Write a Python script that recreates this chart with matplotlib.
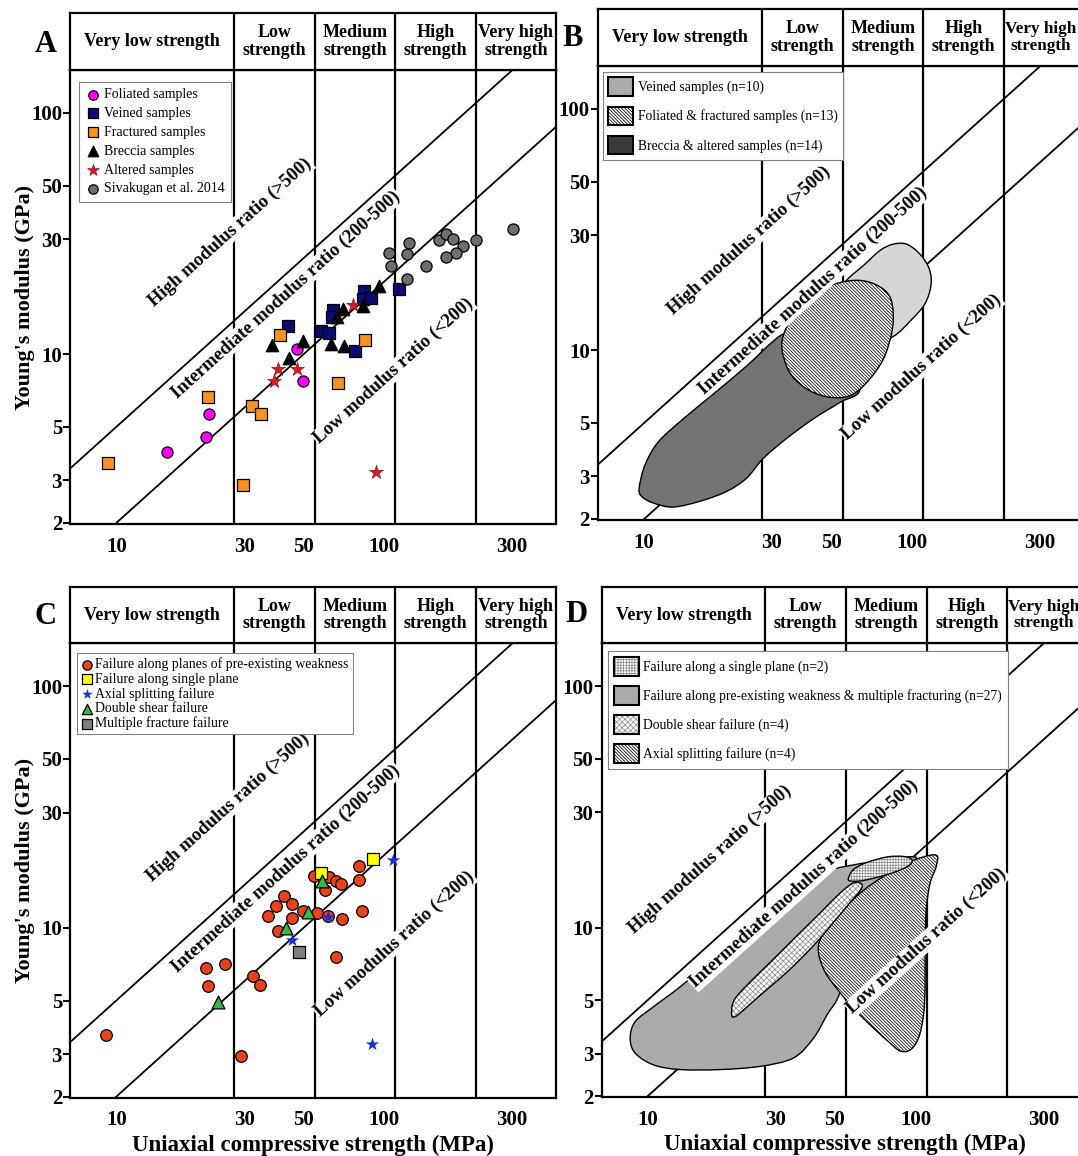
import matplotlib.pyplot as plt
import numpy as np
from matplotlib.patches import Patch, PathPatch
from matplotlib.path import Path
from matplotlib.ticker import NullLocator
from matplotlib.legend_handler import HandlerPatch

plt.rcParams['font.family'] = ['Liberation Serif', 'DejaVu Serif']
plt.rcParams['hatch.linewidth'] = 0.55

# Deere-Miller strength classes (MPa) and modulus ratio lines
CLASS_BOUNDS = [27.5, 55, 110, 220]
CLASS_NAMES = ['Very low strength', 'Low\nstrength', 'Medium\nstrength',
               'High\nstrength', 'Very high\nstrength']
RATIOS = [500, 200]
RATIO_TEXT = ['High modulus ratio (>500)',
              'Intermediate modulus ratio (200-500)',
              'Low modulus ratio (<200)']
X_TICKS = [10, 30, 50, 100, 300]
Y_TICKS = [2, 3, 5, 10, 30, 50, 100]
UCS_LIM = (6.74, 437.7)
E_LIM = (1.98, 150.5)

# ---- panel A : sample types (UCS MPa, E GPa)
foliated_ucs = [15.4, 21.6, 22.2, 47.4, 49.6]
foliated_e = [3.95, 4.54, 5.68, 10.5, 7.77]
veined_ucs = [43.6, 58.1, 62.0, 64.5, 63.8, 77.8, 84.0, 83.1, 89.2, 113.8]
veined_e = [13.1, 12.5, 12.3, 15.2, 14.3, 10.3, 18.3, 16.9, 17.1, 18.6]
fractured_ucs = [9.29, 22.0, 32.2, 34.7, 29.6, 40.8, 67.0, 84.8]
fractured_e = [3.53, 6.66, 6.12, 5.68, 2.88, 11.97, 7.58, 11.4]
breccia_ucs = [38.0, 44.1, 49.9, 63.1, 71.0, 70.0, 66.4, 83.1, 95.8]
breccia_e = [10.9, 9.66, 11.3, 11.05, 10.8, 15.4, 14.2, 15.9, 19.1]
altered_ucs = [38.8, 40.0, 47.4, 76.6, 93.1]
altered_e = [7.77, 8.65, 8.65, 16.0, 3.24]
sivakugan_ucs = [104.2, 106, 121.3, 124.1, 121.3, 143.2, 160.6, 170.0, 181.1,
                 196.3, 184.8, 170, 220.1, 303.2]
sivakugan_e = [26.2, 23.2, 26.1, 29.0, 20.4, 23.2, 29.6, 31.5, 30.0, 28.0,
               26.2, 25.4, 29.6, 32.9]

# ---- panel C : failure modes
weakness_ucs = [9.15, 21.6, 25.5, 21.9, 32.3, 34.3, 29.2, 36.7, 39.3, 42.4,
                45.1, 45.1, 40.2, 49.9, 55.9, 54.7, 62.2, 66.1, 68.8, 60.1,
                61.5, 69.8, 65.8, 80.3, 80.3, 82.4]
weakness_e = [3.61, 6.79, 7.11, 5.72, 6.33, 5.80, 2.94, 11.2, 12.3, 13.5,
              12.5, 11.0, 9.69, 11.7, 11.5, 16.4, 16.3, 15.6, 15.2, 14.3,
              11.2, 10.9, 7.60, 18.0, 15.8, 11.7]
single_ucs = [58.1, 90.8]
single_e = [16.8, 19.3]
axial_ucs = [108, 61.5, 45.1, 89.8]
axial_e = [19.0, 11.1, 8.9, 3.29]
shear_ucs = [23.9, 43.0, 52.1, 58.7]
shear_e = [4.92, 10.0, 11.6, 15.6]
multiple_ucs = [48.2]
multiple_e = [7.94]

# ---- panel B : envelopes
veined_env_ucs = [50.8, 57.0, 65.7, 75.9, 85.0, 95.4, 107, 115.9, 117.6, 111.7, 99.6, 85.0, 67.7, 53.8]
veined_env_e = [16.1, 19.5, 22.4, 25.9, 27.5, 27.5, 25.0, 21.7, 18.6, 15.6, 13.4, 11.4, 10.4, 13.4]
breccia_env_ucs = [9.58, 10.07, 11.29, 14.0, 18.1, 24.1, 30.3, 34.0, 44.0, 57.0, 63.9, 53.8,
                   42.8, 34.0, 27.8, 24.1, 20.3, 16.2, 12.8, 10.8, 9.78]
breccia_env_e = [2.69, 3.35, 4.17, 5.20, 6.58, 8.60, 10.9, 11.8, 12.5, 9.75, 6.90, 6.08,
                 5.20, 4.31, 3.56, 2.95, 2.60, 2.37, 2.24, 2.33, 2.48]
foliated_env_ucs = [32.6, 34.0, 38.1, 45.3, 55.3, 65.7, 75.9, 82.7, 85.0, 83.9, 78.0, 67.7,
                    58.6, 49.4, 41.6, 36.5, 34.0]
foliated_env_e = [10.4, 12.5, 15.1, 17.7, 19.2, 19.4, 18.3, 16.6, 14.2, 11.8, 9.16, 7.35,
                  6.48, 6.38, 6.79, 7.59, 8.60]

# ---- panel D : envelopes
weak_env_ucs = [8.61, 8.98, 10.5, 13.2, 17.6, 23.5, 31.3, 41.6, 49.4, 92.8, 98.3, 78.2, 58.7,
                52.3, 46.7, 41.6, 35.0, 26.3, 18.7, 13.2, 10.5, 8.98]
weak_env_e = [3.48, 4.07, 4.69, 5.67, 7.42, 9.54, 12.5, 15.8, 17.5, 19.6, 18.5, 14.4, 9.25,
              5.41, 4.34, 3.48, 2.88, 2.66, 2.58, 2.58, 2.70, 3.02]
axial_env_ucs = [118.4, 119.4, 113.4, 109.6, 108.6, 108.6, 107.1, 102.6, 95.5, 87.6, 80.4,
                 69.7, 58.7, 50.9, 45.3, 43.4, 48.0, 58.7, 69.7, 92.8]
axial_env_e = [20.0, 17.9, 15.3, 11.9, 8.41, 5.76, 4.34, 3.48, 3.11, 3.08, 3.32, 3.83,
               4.62, 5.58, 6.75, 8.41, 10.3, 13.1, 15.3, 18.5]
shear_env_ucs = [20.6, 20.9, 22.8, 28.7, 36.1, 44.1, 52.3, 58.7, 63.1, 62.1, 57.0, 49.4,
                 41.6, 33.1, 26.3, 22.8, 21.2]
shear_env_e = [4.34, 4.92, 5.58, 7.18, 9.25, 11.5, 13.9, 15.3, 15.1, 14.2, 12.7, 10.5,
               8.41, 6.53, 5.24, 4.55, 4.27]
single_env_ucs = [56.2, 58.7, 65.8, 78.2, 90.2, 96.9, 94.1, 82.7, 69.7, 62.1, 57.0]
single_env_e = [16.0, 17.4, 18.6, 19.6, 19.7, 19.1, 18.0, 16.9, 16.0, 15.6, 15.6]

HATCH_DIAG = '\\' * 10
GRID_GREY = '#8c8c8c'

W, H = 1078, 1156
fig = plt.figure(figsize=(W / 100, H / 100), dpi=100)


def smooth_closed(us, es):
    # closed Catmull-Rom outline through the read points, in log space
    lx, ly = np.log10(us), np.log10(es)
    n = len(lx)
    verts = [(us[0], es[0])]
    codes = [Path.MOVETO]
    for i in range(n):
        p0 = np.array([lx[i - 1], ly[i - 1]])
        p1 = np.array([lx[i], ly[i]])
        p2 = np.array([lx[(i + 1) % n], ly[(i + 1) % n]])
        p3 = np.array([lx[(i + 2) % n], ly[(i + 2) % n]])
        for q in (p1 + (p2 - p0) / 6, p2 - (p3 - p1) / 6, p2):
            verts.append((10 ** q[0], 10 ** q[1]))
            codes.append(Path.CURVE4)
    verts.append(verts[0])
    codes.append(Path.CLOSEPOLY)
    return Path(verts, codes)


def add_shape(ax, us, es, face, hatch=None, hatch_color='k'):
    path = smooth_closed(us, es)
    ax.add_patch(PathPatch(path, facecolor=face, edgecolor=hatch_color, hatch=hatch,
                           lw=0, zorder=3))
    ax.add_patch(PathPatch(path, facecolor='none', edgecolor='k', lw=1.0, zorder=3))


class HatchHandler(HandlerPatch):
    # legend box: grey hatch inside, black outline
    def create_artists(self, legend, orig, xd, yd, width, height, fontsize, trans):
        arts = []
        for ec, hatch, fc, lw in ((orig.get_edgecolor(), orig.get_hatch(), orig.get_facecolor(), 0),
                                  ('k', None, 'none', 1.5)):
            p = plt.Rectangle((-xd, -yd), width, height, facecolor=fc, edgecolor=ec,
                              hatch=hatch, lw=lw, transform=trans)
            arts.append(p)
        return arts


def panel(left, top_hdr, top, bottom, letter, letter_xy, text_pos,
          ylabel=False, xlabel=False):
    width = 485.6
    ax = fig.add_axes([left / W, 1 - bottom / H, width / W, (bottom - top) / H])
    hd = fig.add_axes([left / W, 1 - top / H, width / W, (top - top_hdr) / H])
    for a in (ax, hd):
        a.set_xscale('log')
        a.set_xlim(UCS_LIM)
        for s in a.spines.values():
            s.set_linewidth(1.6)
        for b in CLASS_BOUNDS:
            a.axvline(b, color='k', lw=1.6, zorder=1)
    hd.set_ylim(0, 1)
    hd.set_xticks([])
    hd.set_yticks([])
    hd.xaxis.set_minor_locator(NullLocator())
    edges = [UCS_LIM[0]] + CLASS_BOUNDS + [UCS_LIM[1]]
    for name, a, b in zip(CLASS_NAMES, edges[:-1], edges[1:]):
        xc = np.sqrt(a * b)
        x_px = hd.transData.transform((xc, 0.5))[0]
        if x_px > W - 45:
            # last cell runs past the figure edge: keep the label inside
            hd.text(a * 1.01, 0.5, name, ha='left', va='center', fontsize=12.3,
                    fontweight='bold', linespacing=1.05, multialignment='center')
        else:
            hd.text(xc, 0.5, name, ha='center', va='center', fontsize=13,
                    fontweight='bold', linespacing=1.05)

    ax.set_yscale('log')
    ax.set_ylim(E_LIM)
    ax.set_xticks(X_TICKS, [str(v) for v in X_TICKS], fontsize=15, fontweight='bold')
    ax.set_yticks(Y_TICKS, [str(v) for v in Y_TICKS], fontsize=15, fontweight='bold')
    ax.xaxis.set_minor_locator(NullLocator())
    ax.yaxis.set_minor_locator(NullLocator())
    ax.tick_params(axis='x', length=0, pad=9)
    ax.tick_params(axis='y', length=5, width=1.5, pad=1)

    for r in RATIOS:
        ax.plot(UCS_LIM, [r * u / 1000 for u in UCS_LIM], color='k', lw=1.3, zorder=2)
    p1 = ax.transData.transform((10, 5))
    p2 = ax.transData.transform((100, 50))
    ang = np.degrees(np.arctan2(p2[1] - p1[1], p2[0] - p1[0]))
    for txt, (u, e) in zip(RATIO_TEXT, text_pos):
        ax.text(u, e, txt, rotation=ang, rotation_mode='anchor', ha='center',
                va='center', fontsize=13.5, fontweight='bold', zorder=6,
                bbox=dict(facecolor='white', edgecolor='none', pad=0.6))

    fig.text(letter_xy[0] / W, 1 - letter_xy[1] / H, letter, fontsize=22,
             fontweight='bold', ha='center', va='center')
    if ylabel:
        ax.set_ylabel("Young's modulus (GPa)", fontsize=16, fontweight='bold')
        ax.yaxis.set_label_coords((35 - left) / width, 0.5)
    if xlabel:
        ax.set_xlabel('Uniaxial compressive strength (MPa)', fontsize=16.5,
                      fontweight='bold', labelpad=3)
    return ax


def legend(ax, handles, dx, dy, size=9.5, **kw):
    bb = ax.get_position()
    lg = ax.legend(handles=handles, loc='upper left', frameon=True, fancybox=False,
                   framealpha=1, edgecolor='#808080', borderaxespad=0,
                   bbox_to_anchor=(dx / (bb.width * W), 1 - dy / (bb.height * H)),
                   prop={'size': size}, **kw)
    lg.get_frame().set_linewidth(0.8)
    lg.set_zorder(10)
    return lg


# ---------------- A
axA = panel(70.4, 13.3, 70, 524, 'A', (46, 44),
            [(26.7, 32.0), (42.9, 17.7), (108.6, 8.52)], ylabel=True)
kw = dict(edgecolors='k', linewidths=0.9, zorder=4)
hA = [
    axA.scatter(foliated_ucs, foliated_e, s=64, marker='o', c='#ff00ff', label='Foliated samples', **kw),
    axA.scatter(veined_ucs, veined_e, s=64, marker='s', c='#0b0b70', label='Veined samples', **kw),
    axA.scatter(fractured_ucs, fractured_e, s=64, marker='s', c='#f7931e', label='Fractured samples', **kw),
    axA.scatter(breccia_ucs, breccia_e, s=80, marker='^', c='k', label='Breccia samples', **kw),
    axA.scatter(altered_ucs, altered_e, s=110, marker='*', c='#d0202e', edgecolors='#8b0000',
                linewidths=0.4, zorder=4, label='Altered samples'),
    axA.scatter(sivakugan_ucs, sivakugan_e, s=64, marker='o', c='#6e6e6e',
                label='Sivakugan et al. 2014', **kw),
]
legend(axA, hA, 9, 12, size=10, handlelength=1.0, handletextpad=0.35, labelspacing=0.42,
       borderpad=0.45, markerscale=0.85)

# ---------------- B
axB = panel(598.3, 9.3, 66, 520, 'B', (573, 38),
            [(24.7, 28.4), (42.6, 17.7), (108.6, 8.53)])
add_shape(axB, veined_env_ucs, veined_env_e, '#d6d6d6')
add_shape(axB, breccia_env_ucs, breccia_env_e, '#747474')
add_shape(axB, foliated_env_ucs, foliated_env_e, 'white', HATCH_DIAG)
hB = [Patch(facecolor='#ababab', edgecolor='k', lw=1.5, label='Veined samples (n=10)'),
      Patch(facecolor='white', edgecolor='k', hatch=HATCH_DIAG, lw=1.5,
            label='Foliated & fractured samples (n=13)'),
      Patch(facecolor='#3a3a3a', edgecolor='k', lw=1.5, label='Breccia & altered samples (n=14)')]
legend(axB, hB, 4.5, 6, size=9.8, handlelength=1.85, handleheight=1.7, handletextpad=0.3,
       labelspacing=0.8, borderpad=0.4)

# ---------------- C
axC = panel(70.4, 586.7, 643.3, 1097.7, 'C', (46, 617),
            [(26.2, 31.4), (42.9, 17.6), (109.3, 8.55)], ylabel=True, xlabel=True)
hC = [
    axC.scatter(weakness_ucs, weakness_e, s=70, marker='o', c='#ea421b',
                label='Failure along planes of pre-existing weakness', **kw),
    axC.scatter(single_ucs, single_e, s=70, marker='s', c='#ffff00',
                label='Failure along single plane', **kw),
    axC.scatter(axial_ucs, axial_e, s=100, marker='*', c='#1a2fd0', linewidths=0,
                zorder=5, label='Axial splitting failure'),
    axC.scatter(shear_ucs, shear_e, s=85, marker='^', c='#3cb44b',
                label='Double shear failure', **kw),
    axC.scatter(multiple_ucs, multiple_e, s=70, marker='s', c='#7f7f7f',
                label='Multiple fracture failure', **kw),
]
legend(axC, hC, 7, 10, size=9.9, handlelength=0.8, handletextpad=0.2, labelspacing=0.1,
       borderpad=0.3, markerscale=0.8)

# ---------------- D
axD = panel(601.7, 586.7, 643.3, 1097.3, 'D', (577, 615),
            [(17.1, 19.1), (38.5, 15.1), (110.3, 8.82)], xlabel=True)
add_shape(axD, weak_env_ucs, weak_env_e, '#ababab')
add_shape(axD, axial_env_ucs, axial_env_e, 'white', HATCH_DIAG)
add_shape(axD, shear_env_ucs, shear_env_e, 'white', 'xxxxxx', GRID_GREY)
add_shape(axD, single_env_ucs, single_env_e, 'white', '++++++', GRID_GREY)
hD = [Patch(facecolor='white', edgecolor=GRID_GREY, hatch='++++++',
            label='Failure along a single plane (n=2)'),
      Patch(facecolor='#ababab', edgecolor='k', lw=1.5,
            label='Failure along pre-existing weakness & multiple fracturing (n=27)'),
      Patch(facecolor='white', edgecolor=GRID_GREY, hatch='xxxxxx',
            label='Double shear failure (n=4)'),
      Patch(facecolor='white', edgecolor='k', hatch=HATCH_DIAG, lw=1.5,
            label='Axial splitting failure (n=4)')]
legend(axD, hD, 6, 7.7, size=9.8, handlelength=1.85, handleheight=1.75, handletextpad=0.3,
       labelspacing=0.75, borderpad=0.45,
       handler_map={hD[0]: HatchHandler(), hD[2]: HatchHandler()})

fig.savefig('out.png', dpi=100)
